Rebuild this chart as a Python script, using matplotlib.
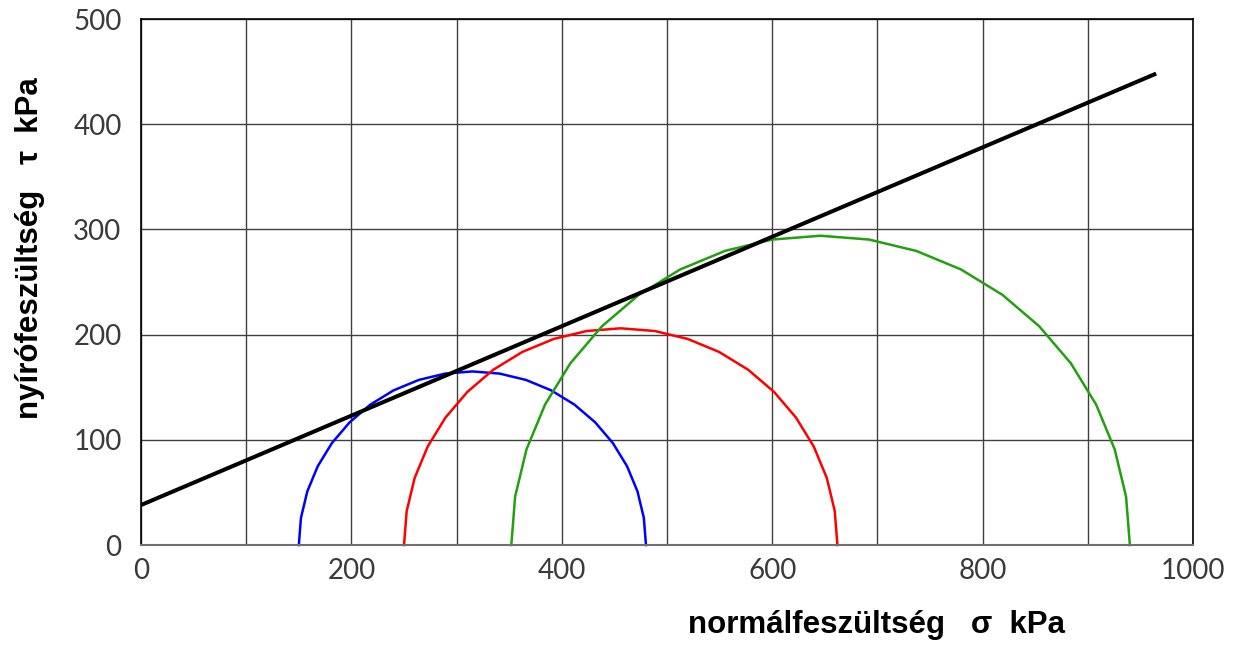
import matplotlib.pyplot as plt
import numpy as np

# Mohr-körök: középpont és sugár (kPa)
centers = [315, 456, 646]
radii = [165, 206, 294]
colors = ['#0000ff', '#ff0000', '#22a010']

# Coulomb-egyenes: kohézió és hajlás, végpont
cohesion = 38
slope = 0.425
line_x = [0, 965]

# rövid fekete szakasz a vízszintes tengelyen
zero_seg = [0, 60]

xticks = [0, 200, 400, 600, 800, 1000]
yticks = [0, 100, 200, 300, 400, 500]

fig = plt.figure(figsize=(12.36, 6.45), dpi=100)
ax = fig.add_axes([0.1141, 0.155, 0.8511, 0.8155])

ax.set_xlim(0, 1000)
ax.set_ylim(0, 500)
ax.set_yticks(yticks)
ax.grid(True, color='#404040', linewidth=1.0)
ax.set_axisbelow(True)

for c, r, col in zip(centers, radii, colors):
    t = np.linspace(np.pi, 0, 21)  # 9 fokonként, mint az eredeti sokszög
    ax.plot(c + r * np.cos(t), r * np.sin(t), color=col, linewidth=1.8,
            solid_joinstyle='miter', clip_on=False)

lx = np.array(line_x)
ax.plot(lx, cohesion + slope * lx, color='black', linewidth=2.9, solid_capstyle='butt')
ax.plot(zero_seg, [0, 0], color='black', linewidth=2.0)

# tengely feliratok, vékony betűvel
ax.set_xticks(np.arange(0, 1001, 100))
ax.set_xticklabels([str(v) if v in xticks else '' for v in range(0, 1001, 100)])
ax.tick_params(length=0, labelsize=20, labelcolor='#3a3a3a')
ax.tick_params(axis='x', pad=9)
ax.tick_params(axis='y', pad=14)
for lab in ax.get_xticklabels() + ax.get_yticklabels():
    lab.set_fontfamily('Lato')
    lab.set_fontweight('normal')

for s in ['top', 'right', 'left']:
    ax.spines[s].set_color('black')
    ax.spines[s].set_linewidth(1.2)
ax.spines['bottom'].set_color('#707070')
ax.spines['bottom'].set_linewidth(1.5)

fig.text(0.709, 0.031, 'normálfeszültség   σ  kPa', ha='center', va='center',
         fontsize=22.5, fontweight='bold', family=['Liberation Sans', 'DejaVu Sans'])
fig.text(0.0243, 0.6155, 'nyírófeszültség   τ  kPa', ha='center', va='center', rotation=90,
         fontsize=22.5, fontweight='bold', family=['Liberation Sans', 'DejaVu Sans'])

plt.savefig('out.png', dpi=100)
